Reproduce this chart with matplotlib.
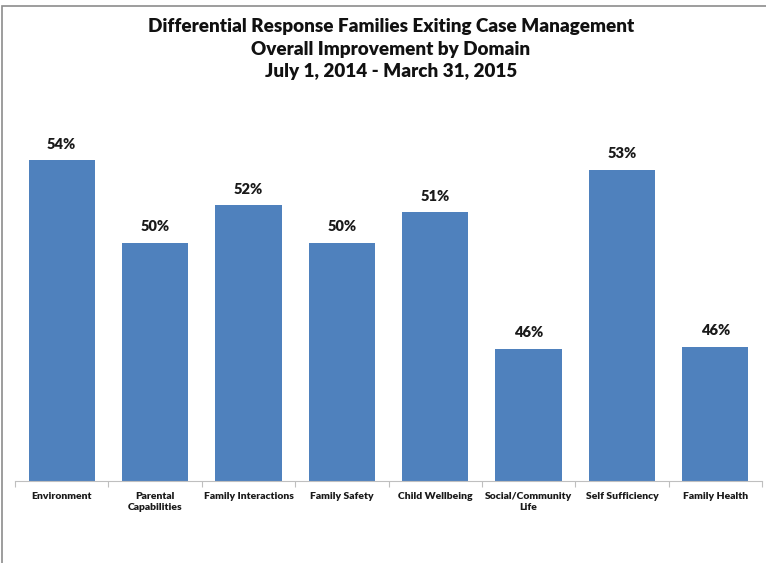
import matplotlib
matplotlib.use('Agg')
import matplotlib.pyplot as plt
from matplotlib.patches import Rectangle

domains = ['Environment', 'Parental\nCapabilities', 'Family Interactions', 'Family Safety',
           'Child Wellbeing', 'Social/Community\nLife', 'Self Sufficiency', 'Family Health']
improved = [53.6, 50.1, 51.7, 50.1, 51.4, 45.6, 53.2, 45.7]

title = ('Differential Response Families Exiting Case Management\n'
         'Overall Improvement by Domain\n'
         'July 1, 2014 - March 31, 2015')

plt.rcParams['font.family'] = ['Lato', 'DejaVu Sans']

fig = plt.figure(figsize=(7.66, 5.63), dpi=100)
fig.patch.set_facecolor('white')
# outer chart frame
fig.add_artist(Rectangle((2 / 766, -0.1), 1.2, 1 - 6 / 563 + 0.1, transform=fig.transFigure,
                         fill=False, edgecolor='#8c8c8c', linewidth=1.2))

ax = fig.add_axes([15 / 766, 1 - 481 / 563, 747 / 766, 353.5 / 563])
x = range(len(domains))
bars = ax.bar(x, improved, width=0.71, color='#4F81BD', bottom=0)
ax.set_ylim(40, 55)
ax.set_xlim(-0.5, len(domains) - 0.5)

for xi, v in zip(x, improved):
    ax.annotate(f'{v:.0f}%', (xi, v), xytext=(0, 7), textcoords='offset points',
                ha='center', va='bottom', fontsize=10.5, fontweight='heavy', color='#1a1a1a')

for s in ['top', 'right', 'left']:
    ax.spines[s].set_visible(False)
ax.spines['bottom'].set_color('#bfbfbf')
ax.set_yticks([])
ax.set_xticks([i - 0.5 for i in range(len(domains) + 1)], minor=False)
ax.set_xticklabels([])
ax.tick_params(axis='x', length=4, color='#bfbfbf')
ax.set_xticks(list(x), minor=True)
ax.set_xticklabels(domains, minor=True, fontsize=7.5, fontweight='heavy', color='#1a1a1a',
                   linespacing=1.3)
ax.tick_params(axis='x', which='minor', length=0, pad=8)

fig.text(0.51, 1 - 18 / 563, title, ha='center', va='top', fontsize=13.6, fontweight='heavy',
         linespacing=1.4, color='#111111')

fig.savefig('out.png', dpi=100)
